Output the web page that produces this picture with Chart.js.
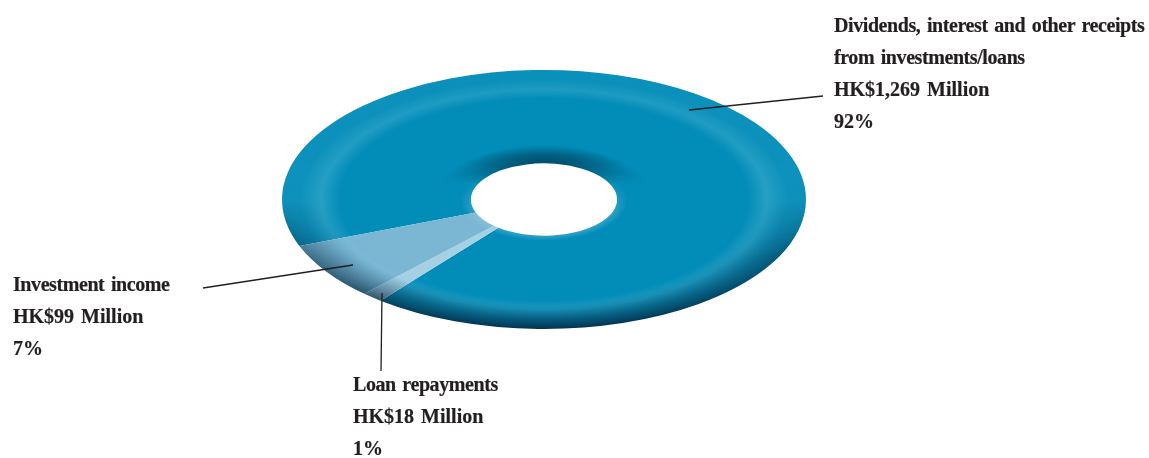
<!DOCTYPE html>
<html>
<head>
<meta charset="utf-8">
<title>Cash inflow</title>
<script src="https://cdn.jsdelivr.net/npm/chart.js@4"></script>
<style>
html, body { margin: 0; padding: 0; background: #fff; }
#wrap { position: relative; width: 1149px; height: 458px; overflow: hidden; }
#chart { position: absolute; left: 0; top: 0; }
.label {
	position: absolute; white-space: nowrap; color: #231f20;
	font: bold 20px/32px "Liberation Serif", serif;
	word-spacing: 2px;
	-webkit-text-stroke: 0.2px #231f20;
}
.tight { letter-spacing: -0.42px; }
</style>
</head>
<body>
<div id="wrap">
	<canvas id="chart" width="1149" height="458"></canvas>
</div>
<script>
// slice order follows the picture clockwise from the left
var categories = ['Dividends, interest and other receipts from investments/loans', 'Loan repayments', 'Investment income'];
var amounts = [1269, 18, 99];
var sliceColors = ['#028cb8', '#a6d0e3', '#7bb6d3'];

var labelLines = [
	['Dividends, interest and other receipts', 'from investments/loans', 'HK$1,269 Million', '92%'],
	['Loan repayments', 'HK$18 Million', '1%'],
	['Investment income', 'HK$99 Million', '7%']
];
var labelPos = [[834, 9], [353, 368], [13, 268]];

// leader lines, x1,y1,x2,y2
var leaders = [[689, 110, 823, 96], [382, 293, 381, 371], [203, 288, 353, 265]];

// where the flat ring lands on the page
var cx = 544, cy = 199.5, rx = 262, ry = 129.5;

function tilt(ctx, el) {
	ctx.translate(cx, cy);
	ctx.scale(rx / el.outerRadius, ry / el.outerRadius);
	ctx.translate(-el.x, -el.y);
}

// radial alpha band multiplied by a top to bottom colour ramp
function shade(chart, el, radial, ramp) {
	var off = document.createElement('canvas');
	off.width = chart.width;
	off.height = chart.height;
	var o = off.getContext('2d');
	tilt(o, el);
	var R = el.outerRadius;
	var g = o.createRadialGradient(el.x, el.y, 0, el.x, el.y, R);
	radial.forEach(function(s){ g.addColorStop(s[0], 'rgba(0,0,0,' + s[1] + ')'); });
	o.fillStyle = g;
	o.fillRect(el.x - R, el.y - R, R * 2, R * 2);
	o.globalCompositeOperation = 'source-in';
	var l = o.createLinearGradient(0, el.y - R, 0, el.y + R);
	ramp.forEach(function(s){ l.addColorStop(s[0], s[1]); });
	o.fillStyle = l;
	o.fillRect(el.x - R, el.y - R, R * 2, R * 2);
	var ctx = chart.ctx;
	ctx.save();
	ctx.globalCompositeOperation = 'source-atop';
	ctx.drawImage(off, 0, 0);
	ctx.restore();
}

var ringPlugin = {
	id: 'ring',
	beforeDatasetsDraw: function(chart) {
		var el = chart.getDatasetMeta(0).data[0];
		chart.ctx.save();
		tilt(chart.ctx, el);
	},
	afterDatasetsDraw: function(chart) {
		chart.ctx.restore();
		var el = chart.getDatasetMeta(0).data[0];
		// pale highlight running round the rim
		shade(chart, el,
			[[0.78, 0], [0.85, 1], [0.93, 0.3], [1, 0.3]],
			[[0, 'rgba(120,205,230,0.22)'], [0.5, 'rgba(120,205,230,0.3)'], [1, 'rgba(120,205,230,0.2)']]);
		// outer edge falls into shadow towards the bottom
		shade(chart, el,
			[[0.82, 0], [1, 1]],
			[[0, 'rgba(0,35,60,0)'], [0.5, 'rgba(0,35,60,0)'], [0.72, 'rgba(0,35,60,0.5)'], [1, 'rgba(0,35,60,0.85)']]);
		// shadow on the far lip of the hole
		shade(chart, el,
			[[0.28, 1], [0.35, 0.5], [0.42, 0]],
			[[0.2, 'rgba(0,35,55,0.85)'], [0.33, 'rgba(0,35,55,0.78)'], [0.44, 'rgba(0,35,55,0)'], [1, 'rgba(0,35,55,0)']]);
		// faint glow on the near lip
		shade(chart, el,
			[[0.28, 1], [0.32, 0]],
			[[0.42, 'rgba(150,215,235,0)'], [0.55, 'rgba(150,215,235,0.3)'], [1, 'rgba(150,215,235,0.3)']]);
	},
	afterDraw: function(chart) {
		var ctx = chart.ctx;
		ctx.save();
		ctx.strokeStyle = '#231f20';
		ctx.lineWidth = 1.3;
		leaders.forEach(function(l){
			ctx.beginPath();
			ctx.moveTo(l[0], l[1]);
			ctx.lineTo(l[2], l[3]);
			ctx.stroke();
		});
		ctx.restore();
	}
};

new Chart(document.getElementById('chart'), {
	type: 'doughnut',
	data: {
		labels: categories,
		datasets: [{
			data: amounts,
			backgroundColor: sliceColors,
			borderWidth: 0,
			clip: false
		}]
	},
	options: {
		responsive: false,
		devicePixelRatio: 1,
		animation: false,
		events: [],
		cutout: '27.9%',
		rotation: 249,
		layout: { padding: 0 },
		plugins: { legend: { display: false }, tooltip: { enabled: false } }
	},
	plugins: [ringPlugin]
});

// text blocks, lines with figures keep the normal spacing
var wrap = document.getElementById('wrap');
labelLines.forEach(function(lines, i){
	var d = document.createElement('div');
	d.className = 'label';
	d.style.left = labelPos[i][0] + 'px';
	d.style.top = labelPos[i][1] + 'px';
	lines.forEach(function(line){
		var row = document.createElement('div');
		if (!/\d/.test(line)) row.className = 'tight';
		row.textContent = line;
		d.appendChild(row);
	});
	wrap.appendChild(d);
});
</script>
</body>
</html>
